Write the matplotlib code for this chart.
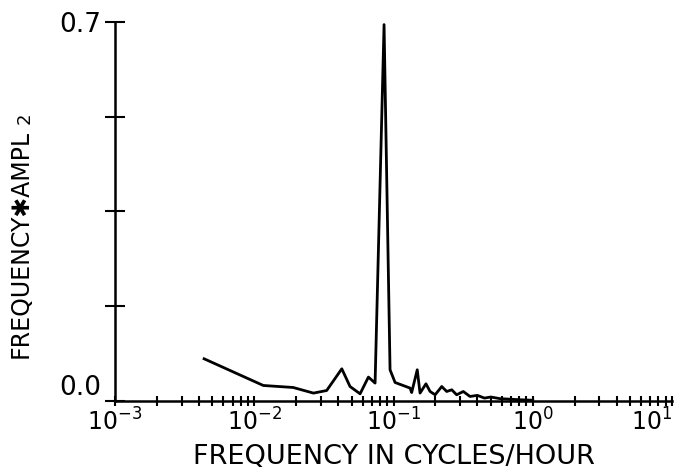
import numpy as np
import matplotlib.pyplot as plt
from matplotlib.ticker import LogLocator, FixedLocator, NullFormatter

# spectrum (frequency in cycles/hour, frequency*ampl^2)
freq = [0.00436, 0.0116, 0.0190, 0.0266, 0.0331, 0.0425, 0.0487, 0.0575,
        0.0660, 0.0737, 0.0855, 0.0944, 0.1026, 0.1314, 0.135, 0.148,
        0.155, 0.171, 0.183, 0.199, 0.222, 0.241, 0.262, 0.284, 0.317,
        0.354, 0.40, 0.45, 0.50, 0.58, 0.68, 0.80, 1.0]
power = [0.0776, 0.0283, 0.0246, 0.0142, 0.0190, 0.0591, 0.0264, 0.0129,
         0.0438, 0.0327, 0.695, 0.0573, 0.0338, 0.0235, 0.0153, 0.0573,
         0.0142, 0.0314, 0.0172, 0.0111, 0.0264, 0.0172, 0.0203, 0.0111, 0.0172,
         0.008, 0.010, 0.005, 0.007, 0.004, 0.003, 0.002, 0.001]

x_ticks = [1e-3, 1e-2, 1e-1, 1e0, 1e1]
x_ticklabels = ['$10^{-3}$', '$10^{-2}$', '$10^{-1}$', '$10^{0}$', '$10^{1}$']
y_ticks = [0.0, 0.175, 0.35, 0.525, 0.7]
y_ticklabels = ['0.0', '', '', '', '0.7']

fig = plt.figure(figsize=(6.85, 4.76), dpi=100)
ax = fig.add_axes([0.168, 0.158, 0.813, 0.796])

ax.plot(freq, power, color='black', lw=2)

ax.set_xscale('log')
ax.set_xlim(1e-3, 1e1)
ax.set_ylim(0, 0.7)

for s in ['top', 'right']:
    ax.spines[s].set_visible(False)
for s in ['left', 'bottom']:
    ax.spines[s].set_linewidth(1.8)

ax.set_xticks(x_ticks)
ax.set_xticklabels(x_ticklabels)
ax.xaxis.set_minor_locator(LogLocator(base=10, subs=np.arange(2, 10), numticks=20))
ax.xaxis.set_minor_formatter(NullFormatter())
ax.tick_params(axis='x', which='both', direction='inout', length=7, width=1.5,
               labelsize=17, pad=2)
ax.get_xticklabels()[-1].set_horizontalalignment('right')

ax.yaxis.set_major_locator(FixedLocator(y_ticks))
ax.set_yticklabels(y_ticklabels)
ax.tick_params(axis='y', direction='inout', length=14, width=1.5, labelsize=19, pad=3)
ax.get_yticklabels()[0].set_verticalalignment('bottom')

ax.set_xlabel('FREQUENCY IN CYCLES/HOUR', fontsize=19.5, labelpad=6)

# y label: main part plus the smaller "2"
fig.text(0.030, 0.487, 'FREQUENCY\u2731AMPL', rotation=90, fontsize=17,
         ha='center', va='center')
fig.text(0.036, 0.752, '2', rotation=90, fontsize=13, ha='center', va='center')

fig.savefig('out.png', dpi=100)
